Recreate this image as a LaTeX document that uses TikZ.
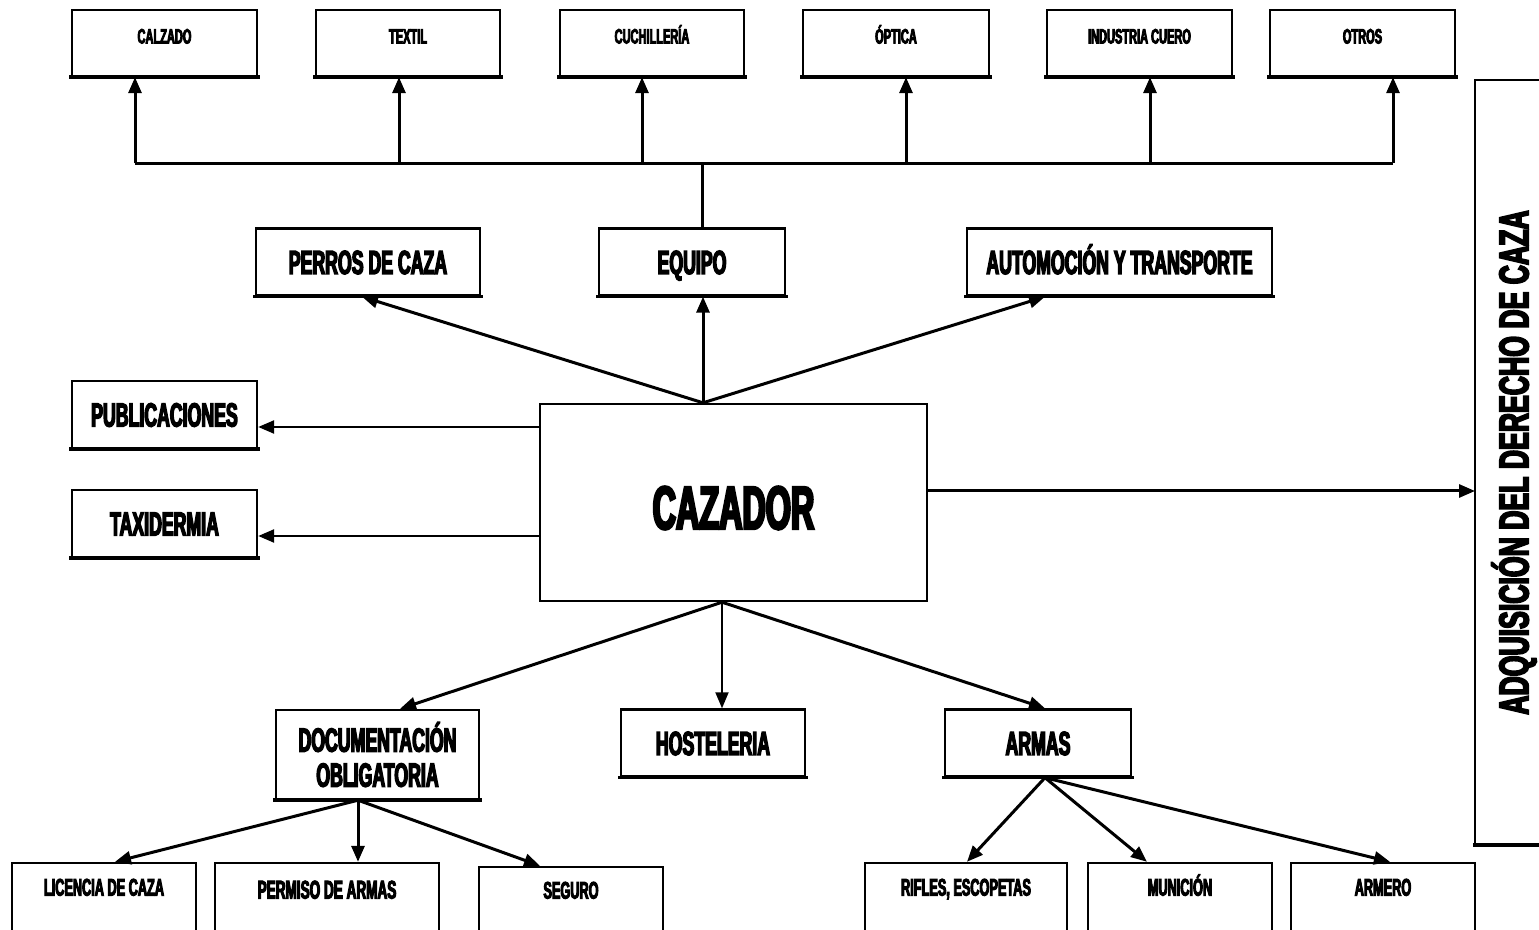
\documentclass[tikz,border=0pt]{standalone}
\usepackage{fontspec}
\newfontfamily\cf{Liberation Sans Bold}[FakeStretch=0.53,FakeBold=4]
\newfontfamily\cfr{Liberation Sans Bold}[FakeStretch=0.64,FakeBold=4]
\usetikzlibrary{arrows.meta,calc}
\begin{document}
\begin{tikzpicture}[x=0.5pt,y=-0.5pt,
  box/.style={draw,line width=1.2pt,rectangle,inner sep=0pt,align=center,font=\cf},
  small/.style={box,minimum height=33pt,text height=7.5pt,text depth=7pt,font=\cf\fontsize{10.4}{12}\selectfont},
  mid/.style={box,minimum height=33.5pt,text height=12pt,text depth=0pt,font=\cf\fontsize{16.7}{17.5}\selectfont},
  low/.style={box,minimum height=38.5pt,text height=8.6pt,font=\cf\fontsize{12}{14}\selectfont},
  line/.style={line width=1.5pt},
  heavy/.style={line width=1.8pt,line cap=rect},
  arr/.style={line width=1.5pt,-{Triangle[length=8pt,width=6.5pt]}}]
\clip (0,0) rectangle (1539,930);
\fill[white] (0,0) rectangle (1539,930);
% top row
\node[small,minimum width=92.5pt] (calzado) at (164.5,43) {CALZADO};
\node[small,minimum width=92pt] (textil) at (408,43) {TEXTIL};
\node[small,minimum width=92pt] (cuchi) at (652,43) {CUCHILLERÍA};
\node[small,minimum width=93pt] (optica) at (896,43) {ÓPTICA};
\node[small,minimum width=92.5pt] (cuero) at (1139.5,43) {INDUSTRIA CUERO};
\node[small,minimum width=92.5pt] (otros) at (1362.5,43) {OTROS};
% middle
\node[mid,minimum width=112pt] (perros) at (368,262) {PERROS DE CAZA};
\node[mid,minimum width=93pt] (equipo) at (692,262) {EQUIPO};
\node[mid,minimum width=152.5pt] (auto) at (1119.5,262) {AUTOMOCIÓN Y TRANSPORTE};
\node[box,minimum width=193.5pt,minimum height=98.5pt,text height=26.5pt,text depth=0pt,font=\cf\fontsize{30.5}{32}\selectfont] (cazador) at (733.5,502.5) {CAZADOR};
\node[mid,minimum width=92.5pt] (publ) at (164.5,414.5) {PUBLICACIONES};
\node[mid,minimum width=92.5pt] (taxi) at (164.5,523.5) {TAXIDERMIA};
\node[rotate=90,inner sep=0pt,font=\cfr\fontsize{20.8}{22}\selectfont] (derecho) at (1514,462.5) {ADQUISICIÓN DEL DERECHO DE CAZA};
\coordinate (rtop) at (1560,80);
\coordinate (rbot) at (1560,845);
\coordinate (rleft) at ($(derecho.center)+(-39,0)$);
\draw[line width=1.2pt] (rtop) -| (rleft |- rbot) -- (rbot);
% lower
\node[mid,minimum width=101.5pt,minimum height=44.5pt,text height={},text depth={}] (doc) at (377.5,754.5) {DOCUMENTACIÓN\\OBLIGATORIA};
\node[mid,minimum width=92pt] (host) at (713,743) {HOSTELERIA};
\node[mid,minimum width=93pt] (armas) at (1038,743) {ARMAS};
% bottom row
\node[low,minimum width=92pt,text depth=14.5pt] (lic) at (104,901.5) {LICENCIA DE CAZA};
\node[low,minimum width=112pt,text depth=11.5pt,font=\cf\fontsize{12.8}{14}\selectfont] (perm) at (327,901.5) {PERMISO DE ARMAS};
\node[low,minimum width=92pt,minimum height=36.5pt,text depth=13.5pt] (seguro) at (571,903.5) {SEGURO};
\node[low,minimum width=101pt,text depth=14.5pt] (rifles) at (966,901.5) {RIFLES, ESCOPETAS};
\node[low,minimum width=92pt,text depth=14.5pt] (muni) at (1180,901.5) {MUNICIÓN};
\node[low,minimum width=92pt,text depth=14.5pt] (armero) at (1383,901.5) {ARMERO};
% heavier bottom edges of boxes
\foreach \n in {calzado,textil,cuchi,optica,cuero,otros,perros,equipo,auto,publ,taxi,doc,host,armas}
  \draw[heavy] (\n.south west) -- (\n.south east);
\draw[heavy] (rbot) -- (rleft |- rbot);
% bus to top row
\coordinate (bus) at ($(equipo.north)+(10,-64)$);
\coordinate (b1) at ($(calzado.south)+(-29.5,0)$);
\coordinate (b2) at ($(textil.south)+(-9,0)$);
\coordinate (b3) at ($(cuchi.south)+(-10,0)$);
\coordinate (b4) at ($(optica.south)+(10,0)$);
\coordinate (b5) at ($(cuero.south)+(10.5,0)$);
\coordinate (b6) at ($(otros.south)+(30.5,0)$);
\draw[line] (b1 |- bus) -- (b6 |- bus);
\draw[line] ($(equipo.north)+(10,0)$) -- (bus);
\foreach \b in {b1,b2,b3,b4,b5,b6} \draw[arr] (\b |- bus) -- (\b);
% from cazador upward
\coordinate (ct) at ($(cazador.north)+(-30.5,0)$);
\draw[arr] (ct) -- ($(perros.south)+(-6,0)$);
\draw[arr] (ct) -- (ct |- equipo.south);
\draw[arr] (ct) -- ($(auto.south)+(-74.5,0)$);
% left
\coordinate (pa) at ($(publ.east)+(0,12.5)$);
\coordinate (ta) at ($(taxi.east)+(0,12.5)$);
\draw[arr,line width=1.2pt] (cazador.west |- pa) -- (pa);
\draw[arr,line width=1.2pt] (cazador.west |- ta) -- (ta);
% right
\coordinate (ra) at ($(cazador.east)+(0,-11.5)$);
\draw[arr] (ra) -- (ra -| rleft);
% downward
\coordinate (cb) at ($(cazador.south)+(-11.5,0)$);
\draw[arr] (cb) -- ($(doc.north)+(22.5,0)$);
\draw[arr,line width=1pt] (cb) -- (cb |- host.north);
\draw[arr] (cb) -- ($(armas.north)+(7,0)$);
\coordinate (db) at ($(doc.south)+(-19.5,0)$);
\draw[arr] (db) -- ($(lic.north)+(11,0)$);
\draw[arr] (db) -- (db |- perm.north);
\draw[arr] (db) -- ($(seguro.north)+(-31,0)$);
\coordinate (ab) at ($(armas.south)+(7,0)$);
\draw[arr] (ab) -- ($(rifles.north)+(1,0)$);
\draw[arr] (ab) -- ($(muni.north)+(-33,0)$);
\draw[arr] (ab) -- ($(armero.north)+(7,0)$);
\end{tikzpicture}
\end{document}
